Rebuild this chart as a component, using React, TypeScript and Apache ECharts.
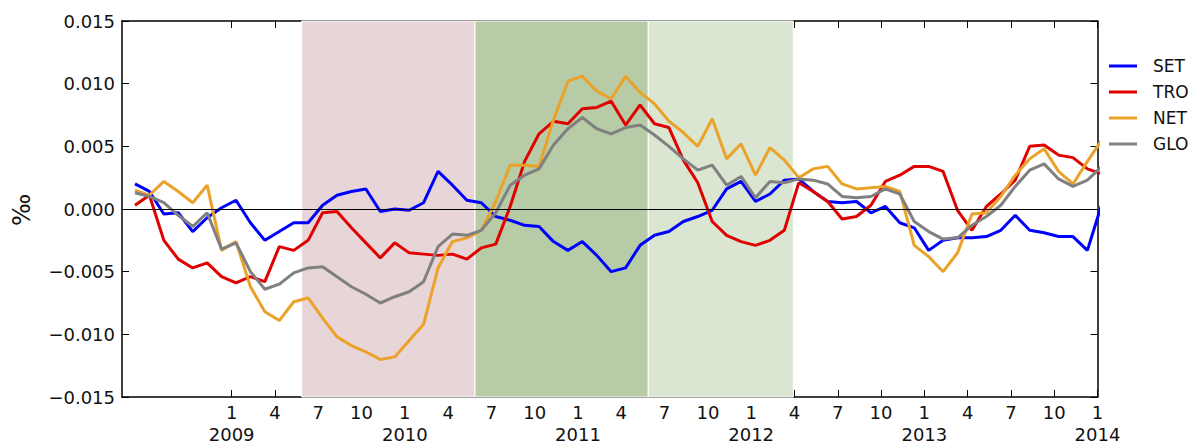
import React, { useEffect, useRef } from "react";
import * as echarts from "echarts";

// Monthly observation dates (year-month)
const months = [
  "2008-06","2008-07","2008-08","2008-09","2008-10","2008-11","2008-12",
  "2009-01","2009-02","2009-03","2009-04","2009-05","2009-06","2009-07","2009-08","2009-09","2009-10","2009-11","2009-12",
  "2010-01","2010-02","2010-03","2010-04","2010-05","2010-06","2010-07","2010-08","2010-09","2010-10","2010-11","2010-12",
  "2011-01","2011-02","2011-03","2011-04","2011-05","2011-06","2011-07","2011-08","2011-09","2011-10","2011-11","2011-12",
  "2012-01","2012-02","2012-03","2012-04","2012-05","2012-06","2012-07","2012-08","2012-09","2012-10","2012-11","2012-12",
  "2013-01","2013-02","2013-03","2013-04","2013-05","2013-06","2013-07","2013-08","2013-09","2013-10","2013-11","2013-12",
  "2014-01",
];

const SET = [
  0.0020, 0.0014, -0.0004, -0.0003, -0.0018, -0.0007, 0.0001,
  0.0007, -0.0011, -0.0025, -0.0018, -0.0011, -0.0011, 0.0003, 0.0011, 0.0014, 0.0016, -0.0002, 0.0000,
  -0.0001, 0.0005, 0.0030, 0.0019, 0.0007, 0.0005, -0.0006, -0.0009, -0.0013, -0.0014, -0.0026, -0.0033,
  -0.0026, -0.0037, -0.0050, -0.0047, -0.0029, -0.0021, -0.0018, -0.0010, -0.0006, -0.0001, 0.0016, 0.0022,
  0.0006, 0.0012, 0.0023, 0.0024, 0.0014, 0.0006, 0.0005, 0.0006, -0.0003, 0.0002, -0.0011, -0.0015,
  -0.0033, -0.0025, -0.0023, -0.0023, -0.0022, -0.0017, -0.0005, -0.0017, -0.0019, -0.0022, -0.0022, -0.0033,
  0.0004,
];

const TRO = [
  0.0003, 0.0011, -0.0025, -0.0040, -0.0047, -0.0043, -0.0054,
  -0.0059, -0.0054, -0.0058, -0.0030, -0.0033, -0.0025, -0.0003, -0.0002, -0.0015, -0.0027, -0.0039, -0.0027,
  -0.0035, -0.0036, -0.0037, -0.0036, -0.0040, -0.0031, -0.0028, 0.0002, 0.0038, 0.0060, 0.0070, 0.0068,
  0.0080, 0.0081, 0.0086, 0.0067, 0.0083, 0.0068, 0.0065, 0.0039, 0.0021, -0.0010, -0.0021, -0.0026,
  -0.0029, -0.0025, -0.0017, 0.0021, 0.0014, 0.0006, -0.0008, -0.0006, 0.0003, 0.0022, 0.0027, 0.0034,
  0.0034, 0.0030, -0.0001, -0.0017, 0.0002, 0.0012, 0.0023, 0.0050, 0.0051, 0.0043, 0.0041, 0.0032,
  0.0028,
];

const NET = [
  0.0015, 0.0011, 0.0022, 0.0014, 0.0005, 0.0019, -0.0033,
  -0.0026, -0.0062, -0.0082, -0.0089, -0.0074, -0.0071, -0.0087, -0.0102, -0.0109, -0.0114, -0.0120, -0.0118,
  -0.0105, -0.0092, -0.0047, -0.0026, -0.0023, -0.0017, 0.0006, 0.0035, 0.0035, 0.0034, 0.0071, 0.0102,
  0.0106, 0.0094, 0.0088, 0.0106, 0.0093, 0.0084, 0.0070, 0.0061, 0.0050, 0.0072, 0.0040, 0.0052,
  0.0027, 0.0049, 0.0039, 0.0025, 0.0032, 0.0034, 0.0020, 0.0016, 0.0017, 0.0018, 0.0014, -0.0029,
  -0.0038, -0.0050, -0.0035, -0.0004, -0.0003, 0.0010, 0.0027, 0.0040, 0.0048, 0.0030, 0.0020, 0.0038,
  0.0055,
];

const GLO = [
  0.0013, 0.0010, 0.0005, -0.0005, -0.0014, -0.0003, -0.0032,
  -0.0027, -0.0050, -0.0064, -0.0060, -0.0051, -0.0047, -0.0046, -0.0054, -0.0062, -0.0068, -0.0075, -0.0070,
  -0.0066, -0.0058, -0.0030, -0.0020, -0.0021, -0.0017, -0.0003, 0.0019, 0.0027, 0.0032, 0.0051, 0.0064,
  0.0073, 0.0064, 0.0060, 0.0065, 0.0067, 0.0059, 0.0050, 0.0040, 0.0031, 0.0035, 0.0019, 0.0026,
  0.0009, 0.0022, 0.0021, 0.0024, 0.0023, 0.0020, 0.0010, 0.0009, 0.0010, 0.0016, 0.0012, -0.0010,
  -0.0018, -0.0024, -0.0023, -0.0013, -0.0006, 0.0003, 0.0018, 0.0031, 0.0036, 0.0024, 0.0018, 0.0023,
  0.0034,
];

// x-axis tick positions: months counted from January 2009
const monthTicks = [0, 3, 6, 9, 12, 15, 18, 21, 24, 27, 30, 33, 36, 39, 42, 45, 48, 51, 54, 57, 60];
const yTicks = [-0.015, -0.01, -0.005, 0, 0.005, 0.01, 0.015];

// shaded periods (in months from January 2009)
const bands = [
  { from: 4.85, to: 16.86, color: "#e8d5d8" },
  { from: 16.86, to: 28.87, color: "#b6cba6" },
  { from: 28.87, to: 38.92, color: "#dae6d2" },
];

const seriesDefs = [
  { name: "SET", data: SET, color: "#0000ff" },
  { name: "TRO", data: TRO, color: "#e00000" },
  { name: "NET", data: NET, color: "#eba228" },
  { name: "GLO", data: GLO, color: "#808080" },
];

const X_MIN = -7.6;
const X_MAX = 60;
const POINT_OFFSET = 0.3;
const FONT = "DejaVu Sans";

function monthPos(label: string): number {
  const [y, m] = label.split("-").map(Number);
  return (y - 2009) * 12 + (m - 1) + POINT_OFFSET;
}

function xLabel(v: number): string {
  const r = Math.round(v);
  const m = ((r % 12) + 12) % 12 + 1;
  const y = 2009 + Math.floor(r / 12);
  return m === 1 ? `${m}\n${y}` : `${m}`;
}

function yLabel(v: number): string {
  const s = Math.abs(v).toFixed(3);
  return v < -1e-12 ? "\u2212" + s : s;
}

export default function App() {
  const ref = useRef<HTMLDivElement>(null);
  useEffect(() => {
    if (!ref.current) return;
    const chart = echarts.init(ref.current, undefined, { renderer: "svg" });
    const axisLine = { show: true, onZero: false, lineStyle: { color: "#000", width: 1.5 } };
    const axisTick = { show: true, inside: true, length: 7, lineStyle: { color: "#000", width: 1 } };
    const option: any = {
      animation: false,
      backgroundColor: "#ffffff",
      grid: { left: 122, right: 95.5, top: 21, bottom: 45.5, containLabel: false },
      legend: {
        orient: "vertical",
        left: 1109,
        top: 57,
        padding: 0,
        itemWidth: 28,
        itemHeight: 3,
        itemGap: 8,
        icon: "rect",
        data: seriesDefs.map((s) => s.name),
        textStyle: { fontFamily: FONT, fontSize: 17, color: "#111", lineHeight: 18, padding: [0, 0, 0, 11] },
      },
      xAxis: [
        {
          type: "value", position: "bottom", min: X_MIN, max: X_MAX,
          axisLine, axisTick: { ...axisTick, customValues: monthTicks },
          axisLabel: {
            customValues: monthTicks, formatter: xLabel, fontFamily: FONT, fontSize: 18,
            color: "#111", lineHeight: 22, margin: 4,
          },
          splitLine: { show: false },
        },
        {
          type: "value", position: "top", min: X_MIN, max: X_MAX,
          axisLine, axisTick: { ...axisTick, customValues: monthTicks },
          axisLabel: { show: false }, splitLine: { show: false },
        },
      ],
      yAxis: [
        {
          type: "value", position: "left", min: -0.015, max: 0.015, interval: 0.005,
          axisLine, axisTick: { ...axisTick, customValues: yTicks },
          axisLabel: { customValues: yTicks, formatter: yLabel, fontFamily: FONT, fontSize: 18, color: "#111", margin: 7 },
          splitLine: { show: false },
        },
        {
          type: "value", position: "right", min: -0.015, max: 0.015, interval: 0.005,
          axisLine, axisTick: { ...axisTick, customValues: yTicks },
          axisLabel: { show: false }, splitLine: { show: false },
        },
      ],
      graphic: [
        {
          type: "text", x: 22, y: 210, rotation: Math.PI / 2,
          style: { text: "\u2030", fontFamily: FONT, fontSize: 24, fill: "#111", align: "center", verticalAlign: "middle" },
        },
      ],
      series: [
        {
          name: "bands", type: "line", data: [], z: 1, silent: true,
          markArea: {
            silent: true, z: 1,
            data: bands.map((b) => [
              { xAxis: b.from, itemStyle: { color: b.color, borderColor: "#ffffff", borderWidth: 1 } },
              { xAxis: b.to },
            ]),
          },
          markLine: {
            silent: true, symbol: ["none", "none"], z: 5,
            label: { show: false },
            lineStyle: { color: "#000", width: 1, type: "solid" },
            data: [{ yAxis: 0 }],
          },
        },
        ...seriesDefs.map((s) => ({
          name: s.name, type: "line", z: 3, symbol: "none", showSymbol: false,
          color: s.color,
          lineStyle: { color: s.color, width: 3 },
          data: months.map((m, i) => [monthPos(m), s.data[i]]),
        })),
      ],
    };
    chart.setOption(option);
    return () => chart.dispose();
  }, []);
  return <div ref={ref} style={{ position: "absolute", left: 0, top: 0, width: 1193, height: 445 }} />;
}
